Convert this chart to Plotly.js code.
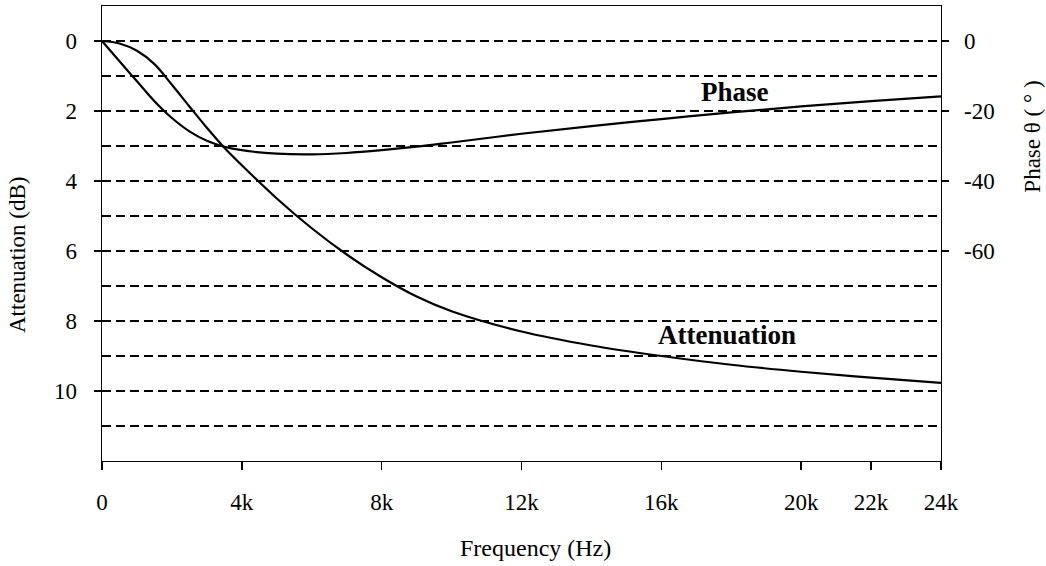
<!DOCTYPE html>
<html>
<head>
<meta charset="utf-8">
<script src="https://cdn.plot.ly/plotly-3.0.1.min.js"></script>
<style>html,body{margin:0;padding:0;background:#fff;}#chart{width:1046px;height:566px;}</style>
</head>
<body>
<div id="chart"></div>
<script>
// Frequency points (Hz)
const freqHz = [0, 500, 1000, 1500, 2000, 2500, 3000, 3500, 4000, 5000, 6000, 7000, 8000, 9000, 10000, 12000, 14000, 16000, 18000, 20000, 22000, 24000];
// Attenuation (dB)
const attenuationDb = [0, 0.07, 0.28, 0.66, 1.25, 1.87, 2.48, 3.05, 3.55, 4.5, 5.35, 6.1, 6.75, 7.3, 7.72, 8.3, 8.7, 9.0, 9.25, 9.45, 9.62, 9.77];
// Phase (degrees)
const phaseDeg = [0, -5.8, -11.5, -17.2, -22.0, -25.8, -28.5, -30.2, -31.2, -32.2, -32.4, -32.0, -31.2, -30.2, -29.0, -26.5, -24.3, -22.3, -20.4, -18.7, -17.2, -15.8];

const xTickVals = [0, 4000, 8000, 12000, 16000, 20000, 22000, 24000];
const xTickText = ['0', '4k', '8k', '12k', '16k', '20k', '22k', '24k'];
const yTickVals = [0, 2, 4, 6, 8, 10];
const yMinorVals = [1, 3, 5, 7, 9, 11];
const y2TickVals = [0, -20, -40, -60];
const y2TickText = ['0', '-20', '-40', '-60'];

const FONT = '"Liberation Serif", "Times New Roman", serif';
const DASH = '9px,5px';

const traces = [
  {x: freqHz, y: attenuationDb, type: 'scatter', mode: 'lines', name: 'Attenuation',
   line: {color: '#000', width: 2.2, shape: 'spline', smoothing: 1}, yaxis: 'y'},
  {x: freqHz, y: phaseDeg, type: 'scatter', mode: 'lines', name: 'Phase',
   line: {color: '#000', width: 2.2, shape: 'spline', smoothing: 1}, yaxis: 'y2'}
];

const layout = {
  width: 1046, height: 566,
  margin: {l: 102, r: 105, t: 6, b: 105},
  paper_bgcolor: '#fff', plot_bgcolor: '#fff',
  showlegend: false,
  font: {family: FONT, size: 23, color: '#000'},
  xaxis: {
    range: [0, 24000], tickvals: xTickVals, ticktext: xTickText,
    showline: true, mirror: true, linecolor: '#000', linewidth: 1.4,
    ticks: 'outside', ticklen: 8, tickwidth: 1.4, tickcolor: '#000',
    showgrid: false, zeroline: false, ticklabelstandoff: 12,
    tickfont: {family: FONT, size: 23, color: '#000'}
  },
  yaxis: {
    range: [12, -1], tickvals: yTickVals,
    showline: true, linecolor: '#000', linewidth: 1.4,
    ticks: 'outside', ticklen: 7, tickwidth: 1.4, tickcolor: '#000',
    showgrid: true, gridcolor: '#000', gridwidth: 1.3, griddash: DASH,
    minor: {tickvals: yMinorVals, showgrid: true, gridcolor: '#000', gridwidth: 1.3, griddash: DASH, ticks: ''},
    zeroline: false, ticklabelstandoff: 12,
    tickfont: {family: FONT, size: 23, color: '#000'}
  },
  yaxis2: {
    range: [-120, 10], tickvals: y2TickVals, ticktext: y2TickText, overlaying: 'y', side: 'right',
    showline: true, linecolor: '#000', linewidth: 1.4,
    ticks: 'outside', ticklen: 7, tickwidth: 1.4, tickcolor: '#000',
    showgrid: false, zeroline: false, ticklabelstandoff: 10,
    tickfont: {family: FONT, size: 23, color: '#000'}
  },
  annotations: [
    {text: '<b>Phase</b>', x: 18100, y: 1.46, xref: 'x', yref: 'y', showarrow: false,
     font: {family: FONT, size: 27, color: '#000'}},
    {text: '<b>Attenuation</b>', x: 17870, y: 8.4, xref: 'x', yref: 'y', showarrow: false,
     font: {family: FONT, size: 27, color: '#000'}},
    {text: 'Frequency (Hz)', x: 0.517, y: -0.191, xref: 'paper', yref: 'paper', showarrow: false,
     xanchor: 'center', yanchor: 'middle', font: {family: FONT, size: 24, color: '#000'}},
    {text: 'Attenuation (dB)', x: -0.1, y: 0.453, xref: 'paper', yref: 'paper', showarrow: false,
     textangle: -90, xanchor: 'center', yanchor: 'middle', font: {family: FONT, size: 23, color: '#000'}},
    {text: 'Phase θ ( ° )', x: 1.108, y: 0.712, xref: 'paper', yref: 'paper', showarrow: false,
     textangle: -90, xanchor: 'center', yanchor: 'middle', font: {family: FONT, size: 23, color: '#000'}}
  ]
};

Plotly.newPlot('chart', traces, layout, {displayModeBar: false, staticPlot: true});
</script>
</body>
</html>
